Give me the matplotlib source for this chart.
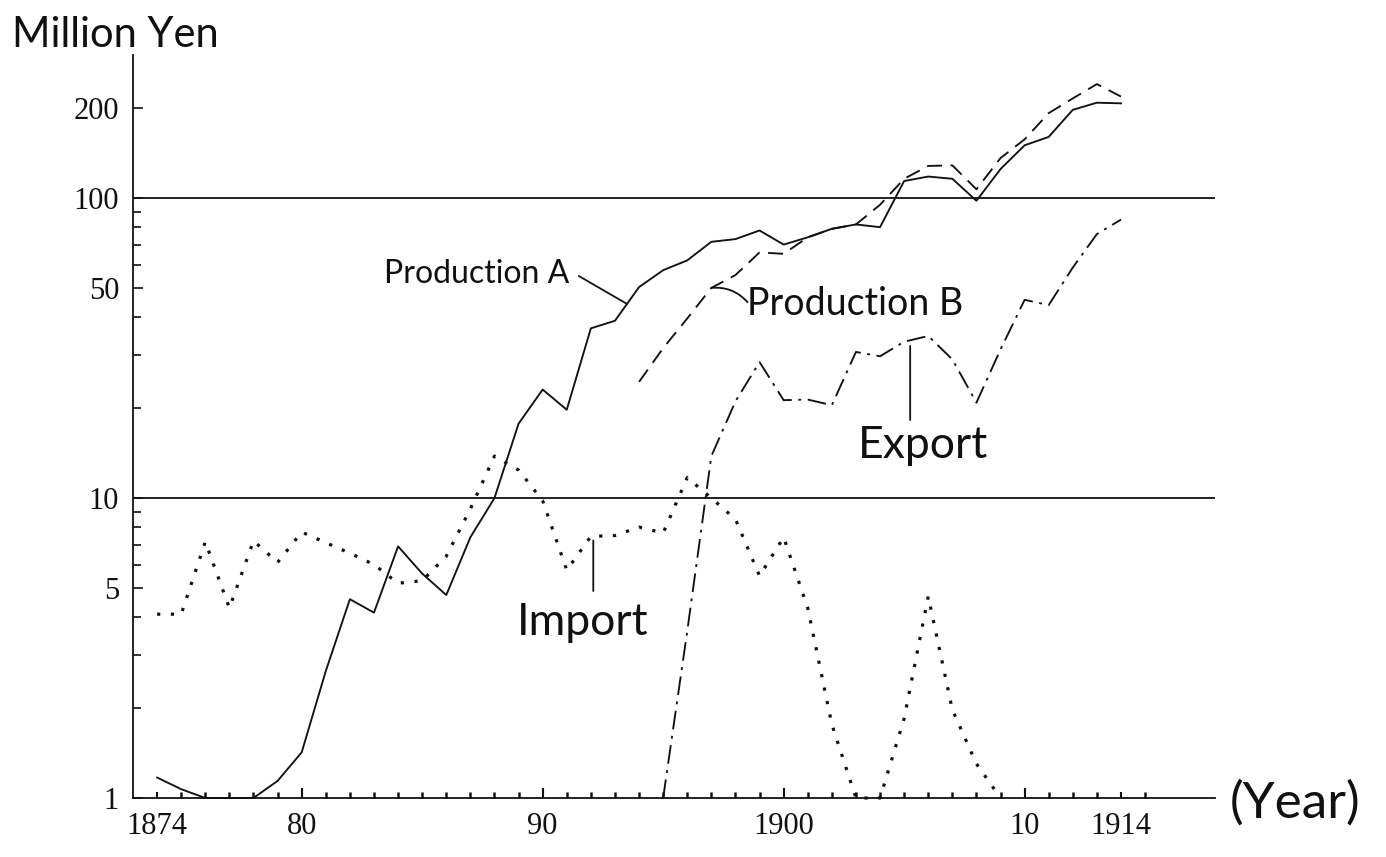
import numpy as np
import matplotlib
matplotlib.use("Agg")
import matplotlib.pyplot as plt
from matplotlib.ticker import FixedLocator, FixedFormatter, NullFormatter

# ---- data (million yen, log scale) ----
years_a = list(range(1874, 1915))
production_a = [1.17, 1.07, 1.0, 1.0, 1.0, 1.14, 1.42, 2.65, 4.6, 4.15,
                6.9, 5.6, 4.75, 7.4, 10.0, 17.7, 23.0, 19.7, 36.8, 39.0,
                50.5, 57.5, 62.0, 71.5, 73.0, 78.0, 70.0, 74.0, 79.0, 81.7,
                80.0, 114.0, 118.0, 116.0, 98.0, 125.0, 150.0, 160.0, 197.0, 208.0,
                207.0]

years_b = list(range(1894, 1915))
production_b = [24.4, 31.6, 39.7, 50.2, 55.4, 65.9, 65.2, 74.0, 79.0, 81.7,
                95.0, 116.0, 128.0, 128.6, 107.0, 136.0, 157.0, 192.0, 215.0, 240.0,
                218.0]

years_export = list(range(1895, 1915))
export = [1.0, 3.6, 13.8, 21.0, 28.4, 21.2, 21.3, 20.4, 30.7, 29.7,
          33.2, 34.7, 29.0, 20.8, 31.3, 45.8, 44.0, 58.7, 75.9, 84.8]

years_import = list(range(1874, 1910))
imports = [4.1, 4.1, 7.15, 4.3, 7.2, 6.1, 7.7, 7.1, 6.55, 6.0,
           5.2, 5.3, 6.4, 9.2, 13.8, 12.4, 9.8, 5.75, 7.45, 7.5,
           8.0, 7.65, 11.7, 10.0, 8.5, 5.5, 7.4, 4.3, 1.76, 1.0,
           1.0, 1.84, 4.7, 1.97, 1.3, 1.0]

y_major = [1, 5, 10, 50, 100, 200]
y_major_labels = ["1", "5", "10", "50", "100", "200"]
y_minor = [2, 3, 4, 6, 7, 8, 9, 20, 30, 40, 60, 70, 80, 90]
x_major = [1874, 1880, 1890, 1900, 1910, 1914]
x_major_labels = ["1874", "80", "90", "1900", "10", "1914"]
x_minor = list(range(1874, 1916))
ref_levels = [10, 100]

HAND = ["Lato", "DejaVu Sans"]
NUM = ["Liberation Serif", "DejaVu Serif"]
INK = "#111111"

W, H = 1386, 857
fig = plt.figure(figsize=(W / 100, H / 100), dpi=100)
fig.patch.set_facecolor("white")
ax = fig.add_axes([133 / W, 1 - 798 / H, (1215 - 133) / W, (798 - 55) / H])
ax.set_yscale("log")
ax.set_xlim(1873.0, 1917.9)
ax.set_ylim(1, 300)

for s in ("top", "right"):
    ax.spines[s].set_visible(False)
for s in ("left", "bottom"):
    ax.spines[s].set_linewidth(1.3)
    ax.spines[s].set_color(INK)

for lvl in ref_levels:
    ax.axhline(lvl, color=INK, lw=1.3, zorder=1)

lw = 1.35
ax.plot(years_a, production_a, color=INK, lw=lw, ls="-", clip_on=False, zorder=3)
ax.plot(years_b, production_b, color=INK, lw=lw, ls=(0, (8, 4.5)), clip_on=False, zorder=3)
ax.plot(years_export, export, color=INK, lw=lw, ls=(0, (10, 3.5, 1.5, 3.5)),
        clip_on=False, zorder=3)
ax.plot(years_import, imports, color=INK, lw=2.3, ls=(0, (1.0, 3.3)),
        dash_capstyle="butt", clip_on=False, zorder=3)

# y axis ticks
ax.yaxis.set_major_locator(FixedLocator(y_major))
ax.yaxis.set_major_formatter(FixedFormatter(y_major_labels))
ax.yaxis.set_minor_locator(FixedLocator(y_minor))
ax.yaxis.set_minor_formatter(NullFormatter())
ax.tick_params(axis="y", which="major", direction="in", length=7, width=1.2,
               pad=10, labelsize=22, colors=INK)
ax.tick_params(axis="y", which="minor", direction="in", length=5.5, width=1.2,
               colors=INK)

# x axis ticks
ax.xaxis.set_major_locator(FixedLocator(x_major))
ax.xaxis.set_major_formatter(FixedFormatter(x_major_labels))
ax.xaxis.set_minor_locator(FixedLocator(x_minor))
ax.tick_params(axis="x", which="major", direction="in", length=7, width=1.5,
               pad=10, labelsize=22, colors=INK)
ax.tick_params(axis="x", which="minor", direction="in", length=4, width=1.8,
               colors=INK)
for t, lab in zip(ax.xaxis.get_major_ticks(), x_major_labels):
    if lab in ("1874", "1914"):
        t.tick1line.set_markersize(4)
for lab in ax.get_xticklabels() + ax.get_yticklabels():
    lab.set_family(NUM)


def value_at(xs, ys, x):
    return 10 ** np.interp(x, xs, np.log10(ys))


leader = dict(arrowstyle="-", color=INK, lw=1.3, shrinkA=0, shrinkB=0)
hand = dict(family=HAND, fontweight="normal", color=INK)

# Production A
ax.text(1887.25, 56, "Production A", fontsize=23, ha="center", va="center", **hand)
ax.annotate("", xy=(1893.5, value_at(years_a, production_a, 1893.5)),
            xytext=(1891.5, 55), arrowprops=leader)

# Production B
ax.text(1898.5, 44.5, "Production B", fontsize=27, ha="left", va="center", **hand)
ax.annotate("", xy=(1897, value_at(years_b, production_b, 1897)),
            xytext=(1898.5, 45.0),
            arrowprops=dict(leader, connectionstyle="arc3,rad=0.25"))

# Export
ax.text(1905.8, 15.0, "Export", fontsize=32, ha="center", va="center", **hand)
ax.annotate("", xy=(1905.25, value_at(years_export, export, 1905.25)),
            xytext=(1905.25, 18.2), arrowprops=dict(leader, shrinkB=4))

# Import
ax.text(1891.65, 3.84, "Import", fontsize=32, ha="center", va="center", **hand)
ax.annotate("", xy=(1892.1, value_at(years_import, imports, 1892.1)),
            xytext=(1892.1, 4.9), arrowprops=dict(leader, shrinkB=3))

fig.text(12 / W, 1 - 35 / H, "Million Yen", fontsize=30, ha="left", va="center", **hand)
fig.text(1295 / W, 1 - 803 / H, "(Year)", fontsize=37, ha="center", va="center", **hand)

fig.savefig("out.png", dpi=100, facecolor="white")
